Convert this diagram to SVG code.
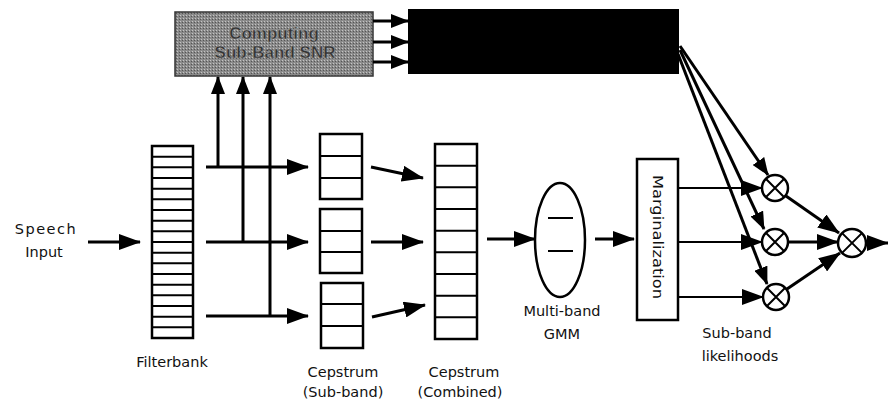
<svg xmlns="http://www.w3.org/2000/svg" width="888" height="406" viewBox="0 0 888 406">
<defs>
<marker id="ah" markerUnits="userSpaceOnUse" markerWidth="22" markerHeight="16" refX="21" refY="8" orient="auto">
<path d="M0,0 L22,8 L0,16 z" fill="#000"/>
</marker>
<marker id="ahs" markerUnits="userSpaceOnUse" markerWidth="18" markerHeight="14" refX="17" refY="7" orient="auto">
<path d="M0,0 L18,7 L0,14 z" fill="#000"/>
</marker>
<pattern id="dither" width="3" height="3" patternUnits="userSpaceOnUse">
<rect width="3" height="3" fill="#8a8a8a"/>
<rect x="0" y="0" width="1" height="1" fill="#c4c4c4"/>
<rect x="2" y="1" width="1" height="1" fill="#555"/>
</pattern>
</defs>
<style>
.lbl{font-family:"DejaVu Sans",sans-serif;font-size:14.5px;fill:#111;text-anchor:middle}
.snr{font-family:"Liberation Sans",sans-serif;font-size:17px;font-weight:bold;fill:#333;text-anchor:middle;stroke:#9a9a9a;stroke-width:0.5}
.box{fill:#fff;stroke:#000;stroke-width:2.5}
.cell{stroke:#000;stroke-width:2}
.c{stroke:#000;stroke-width:3;fill:none}
.ct{stroke:#000;stroke-width:2;fill:none}
.mul{fill:#fff;stroke:#000;stroke-width:2.5}
</style>
<g id="speech-input">
<text class="lbl" x="46" y="234" letter-spacing="1.5">Speech</text>
<text class="lbl" x="44" y="257">Input</text>
</g>
<g id="filterbank">
<rect class="box" x="152" y="146" width="41" height="192"/>
<path class="cell" d="M152,156.7H193M152,167.3H193M152,178H193M152,188.7H193M152,199.3H193M152,210H193M152,220.7H193M152,231.3H193M152,242H193M152,252.7H193M152,263.3H193M152,274H193M152,284.7H193M152,295.3H193M152,306H193M152,316.7H193M152,327.3H193"/>
<text class="lbl" x="172" y="367">Filterbank</text>
</g>
<g id="snr">
<rect x="175" y="12" width="198" height="64" fill="url(#dither)" stroke="#333" stroke-width="1.5"/>
<text class="snr" x="274" y="39">Computing</text>
<text class="snr" x="275" y="58">Sub-Band SNR</text>
</g>
<g id="black-box">
<rect x="408" y="9" width="271" height="65" fill="#000"/>
</g>
<g id="cepstrum-subband">
<rect class="box" x="320" y="134" width="42" height="65"/>
<path class="cell" d="M320,156H362M320,178H362"/>
<rect class="box" x="320" y="209" width="42" height="64"/>
<path class="cell" d="M320,231H362M320,252H362"/>
<rect class="box" x="321" y="283" width="42" height="65"/>
<path class="cell" d="M321,304H363M321,326H363"/>
<text class="lbl" x="343" y="377">Cepstrum</text>
<text class="lbl" x="343" y="397">(Sub-band)</text>
</g>
<g id="cepstrum-combined">
<rect class="box" x="435" y="144" width="42" height="195"/>
<path class="cell" d="M435,165.7H477M435,187.3H477M435,209H477M435,230.7H477M435,252.3H477M435,274H477M435,295.7H477M435,317.3H477"/>
<text class="lbl" x="464" y="377">Cepstrum</text>
<text class="lbl" x="460" y="397">(Combined)</text>
</g>
<g id="gmm">
<ellipse cx="560" cy="240" rx="25" ry="57" fill="#fff" stroke="#000" stroke-width="2.5"/>
<path class="cell" d="M548,218H573M548,251H573"/>
<text class="lbl" x="562" y="316">Multi-band</text>
<text class="lbl" x="562" y="339">GMM</text>
</g>
<g id="marginalization">
<rect class="box" x="637" y="159" width="41" height="161"/>
<text class="lbl" transform="translate(653,237) rotate(90)" font-size="15" textLength="124" lengthAdjust="spacingAndGlyphs">Marginalization</text>
</g>
<g id="mult1">
<circle class="mul" cx="775" cy="188" r="13"/>
<path class="ct" d="M765.8,178.8L784.2,197.2M784.2,178.8L765.8,197.2"/>
</g>
<g id="mult2">
<circle class="mul" cx="775" cy="242" r="13"/>
<path class="ct" d="M765.8,232.8L784.2,251.2M784.2,232.8L765.8,251.2"/>
</g>
<g id="mult3">
<circle class="mul" cx="776" cy="297" r="13"/>
<path class="ct" d="M766.8,287.8L785.2,306.2M785.2,287.8L766.8,306.2"/>
</g>
<g id="mult-final">
<circle class="mul" cx="852" cy="243" r="14"/>
<path class="ct" d="M842.1,233.1L861.9,252.9M861.9,233.1L842.1,252.9"/>
</g>
<g id="likelihood-label">
<text class="lbl" x="737" y="338">Sub-band</text>
<text class="lbl" x="740" y="361">likelihoods</text>
</g>
<g id="connectors">
<path class="c" d="M88,242H140" marker-end="url(#ah)"/>
<path class="c" d="M206,167H308" marker-end="url(#ah)"/>
<path class="c" d="M206,242H308" marker-end="url(#ah)"/>
<path class="c" d="M206,316H308" marker-end="url(#ah)"/>
<path class="c" d="M218,167V77" marker-end="url(#ahs)"/>
<path class="c" d="M243,242V77" marker-end="url(#ahs)"/>
<path class="c" d="M270,316V77" marker-end="url(#ahs)"/>
<path class="c" d="M373,21H408" marker-end="url(#ahs)"/>
<path class="c" d="M373,42H408" marker-end="url(#ahs)"/>
<path class="c" d="M373,62H408" marker-end="url(#ahs)"/>
<path class="c" d="M371,167L423,178" marker-end="url(#ah)"/>
<path class="c" d="M371,242H423" marker-end="url(#ah)"/>
<path class="c" d="M372,317L425,305" marker-end="url(#ah)"/>
<path class="c" d="M487,239H535" marker-end="url(#ah)"/>
<path class="c" d="M595,239H634" marker-end="url(#ah)"/>
<path class="ct" d="M678,188H762" marker-end="url(#ah)"/>
<path class="ct" d="M678,242H762" marker-end="url(#ah)"/>
<path class="ct" d="M678,297H763" marker-end="url(#ah)"/>
<path class="c" d="M680,46L768,175" marker-end="url(#ahs)"/>
<path class="c" d="M680,50L764,229" marker-end="url(#ahs)"/>
<path class="c" d="M678,54L767,284" marker-end="url(#ahs)"/>
<path class="c" d="M786,196L839,233" marker-end="url(#ah)"/>
<path class="c" d="M788,242H838" marker-end="url(#ah)"/>
<path class="c" d="M787,289L840,253" marker-end="url(#ah)"/>
<path class="c" d="M866,243H888" marker-end="url(#ah)"/>
</g>
</svg>
